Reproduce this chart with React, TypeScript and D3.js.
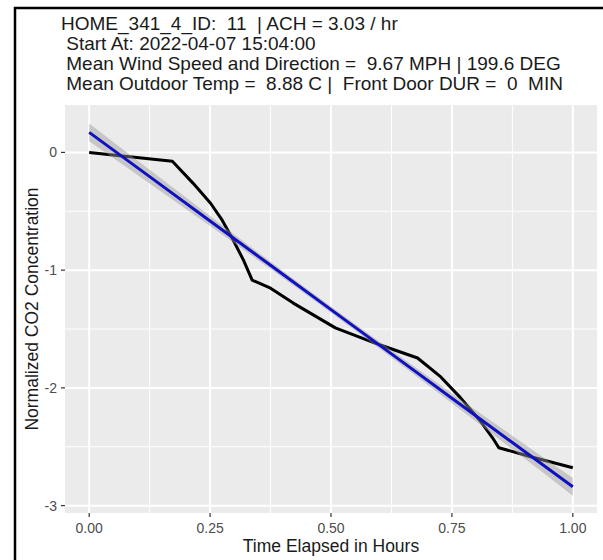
import React from "react";
import * as d3 from "d3";

const titleLines = [
  "HOME_341_4_ID:  11  | ACH = 3.03 / hr",
  " Start At: 2022-04-07 15:04:00",
  " Mean Wind Speed and Direction =  9.67 MPH | 199.6 DEG",
  " Mean Outdoor Temp =  8.88 C |  Front Door DUR =  0  MIN",
];

const obsX = [0, 0.172, 0.215, 0.251, 0.275, 0.298, 0.319, 0.337, 0.375, 0.422, 0.509, 0.602, 0.679, 0.727, 0.768, 0.81, 0.834, 0.847, 0.913, 1.0];
const obsY = [0, -0.076, -0.263, -0.432, -0.576, -0.746, -0.915, -1.085, -1.153, -1.28, -1.49, -1.636, -1.746, -1.907, -2.085, -2.288, -2.424, -2.508, -2.585, -2.678];

const fitX = [0, 0.125, 0.25, 0.375, 0.5, 0.625, 0.75, 0.875, 1];
const fitY = [0.17, -0.206, -0.583, -0.959, -1.335, -1.711, -2.088, -2.464, -2.84];
const fitSe = [0.075, 0.058, 0.043, 0.031, 0.026, 0.031, 0.043, 0.058, 0.075];

const xTicks = [0, 0.25, 0.5, 0.75, 1];
const xMinor = [0.125, 0.375, 0.625, 0.875];
const yTicks = [0, -1, -2, -3];
const yMinor = [-0.5, -1.5, -2.5];

const W = 603;
const H = 560;
const P = { left: 65, right: 597, top: 105, bottom: 513 };

export default function App() {
  const xs = d3.scaleLinear().domain([-0.05, 1.05]).range([P.left, P.right]);
  const ys = d3.scaleLinear().domain([-3.0625, 0.4025]).range([P.bottom, P.top]);

  const obs = obsX.map((x, i) => [x, obsY[i]] as [number, number]);
  const fit = fitX.map((x, i) => ({ x, y: fitY[i], se: fitSe[i] }));

  const line = d3.line<[number, number]>().x((d) => xs(d[0])).y((d) => ys(d[1]));
  const fitLine = d3.line<any>().x((d) => xs(d.x)).y((d) => ys(d.y));
  const area = d3
    .area<any>()
    .x((d) => xs(d.x))
    .y0((d) => ys(d.y - d.se))
    .y1((d) => ys(d.y + d.se))
    .curve(d3.curveMonotoneX);

  const font = "'Liberation Sans', Arial, sans-serif";
  const tickColor = "#4D4D4D";

  return (
    <svg
      width={W}
      height={H}
      style={{ position: "absolute", left: 0, top: 0, background: "white" }}
      fontFamily={font}
    >
      <rect x={0} y={0} width={W} height={H} fill="white" />
      <path d={`M15,${H} L15,8 L${W},8`} fill="none" stroke="black" strokeWidth={2.5} />

      {titleLines.map((t, i) => (
        <text
          key={i}
          x={61}
          y={30 + i * 20}
          fontSize={19}
          fill="#1a1a1a"
          style={{ whiteSpace: "pre" }}
        >
          {t}
        </text>
      ))}

      <rect x={P.left} y={P.top} width={P.right - P.left} height={P.bottom - P.top} fill="#EBEBEB" />
      {xMinor.map((v) => (
        <line key={"xm" + v} x1={xs(v)} x2={xs(v)} y1={P.top} y2={P.bottom} stroke="white" strokeWidth={1} />
      ))}
      {yMinor.map((v) => (
        <line key={"ym" + v} x1={P.left} x2={P.right} y1={ys(v)} y2={ys(v)} stroke="white" strokeWidth={1} />
      ))}
      {xTicks.map((v) => (
        <line key={"xM" + v} x1={xs(v)} x2={xs(v)} y1={P.top} y2={P.bottom} stroke="white" strokeWidth={2} />
      ))}
      {yTicks.map((v) => (
        <line key={"yM" + v} x1={P.left} x2={P.right} y1={ys(v)} y2={ys(v)} stroke="white" strokeWidth={2} />
      ))}

      <path d={line(obs) || ""} fill="none" stroke="#000" strokeWidth={3} strokeLinejoin="round" />
      <path d={area(fit) || ""} fill="#999999" fillOpacity={0.45} stroke="none" />
      <path d={fitLine(fit) || ""} fill="none" stroke="#1010C0" strokeWidth={3} />

      {xTicks.map((v) => (
        <g key={"xt" + v}>
          <line x1={xs(v)} x2={xs(v)} y1={P.bottom} y2={P.bottom + 4} stroke="#333" strokeWidth={1.2} />
          <text x={xs(v)} y={532.5} fontSize={14} fill={tickColor} textAnchor="middle">
            {d3.format(".2f")(v)}
          </text>
        </g>
      ))}
      {yTicks.map((v) => (
        <g key={"yt" + v}>
          <line x1={P.left - 4} x2={P.left} y1={ys(v)} y2={ys(v)} stroke="#333" strokeWidth={1.2} />
          <text x={57} y={ys(v) + 5} fontSize={14} fill={tickColor} textAnchor="end">
            {v === 0 ? "0" : String(v)}
          </text>
        </g>
      ))}

      <text x={(P.left + P.right) / 2} y={552} fontSize={17.5} fill="#1a1a1a" textAnchor="middle">
        Time Elapsed in Hours
      </text>
      <text
        transform={`translate(38, ${(P.top + P.bottom) / 2}) rotate(-90)`}
        fontSize={17.5}
        fill="#1a1a1a"
        textAnchor="middle"
      >
        Normalized CO2 Concentration
      </text>
    </svg>
  );
}
